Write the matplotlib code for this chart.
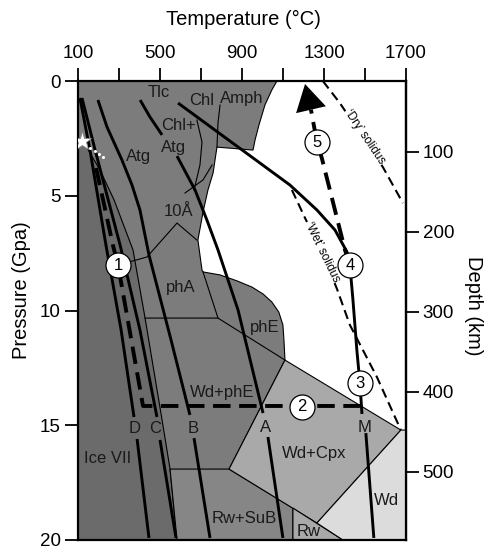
import matplotlib
matplotlib.use('Agg')
import matplotlib.pyplot as plt
from matplotlib.patches import Polygon

plt.rcParams['font.family'] = ['Liberation Sans', 'DejaVu Sans']

# ---------------- axes ----------------
temp_ticks = [100, 300, 500, 700, 900, 1100, 1300, 1500, 1700]
temp_labels = ['100', '', '500', '', '900', '', '1300', '', '1700']
pressure_ticks = [0, 5, 10, 15, 20]
depth_ticks = [100, 200, 300, 400, 500]

# ---------------- phase fields (T in degC, P in GPa) ----------------
hydrous_T = [100, 1070, 1045, 1011, 982, 963, 953, 777, 758, 733, 709, 684, 704, 709,
             792, 875, 948, 1002, 1045, 1079, 1099, 1104, 1109, 836, 1148, 1148, 100]
hydrous_P = [0, 0, 0.39, 1.05, 1.92, 2.57, 3.01, 2.88, 4.01, 4.75, 5.71, 6.93, 8.24, 8.32,
             8.45, 8.71, 8.98, 9.28, 9.63, 10.07, 10.63, 11.28, 12.16, 16.91, 18.61, 20, 20]
ice_T = [100, 123, 206, 275, 367, 426, 509, 548, 582, 100]
ice_P = [2.75, 2.61, 3.88, 5.19, 7.36, 10.33, 14.77, 16.91, 20, 20]
rwsub_T = [548, 836, 1148, 1148, 582]
rwsub_P = [16.91, 16.91, 18.61, 20, 20]
wdcpx_T = [1109, 1675, 1265, 836]
wdcpx_P = [12.16, 15.21, 19.26, 16.91]
rw_T = [1148, 1392, 1148]
rw_P = [18.61, 20, 20]
wd_T = [1265, 1675, 1700, 1700, 1392]
wd_P = [19.26, 15.21, 15.21, 20, 20]

# ---------------- thin phase boundaries ----------------
amph_T = [792, 782, 777]
amph_P = [1.05, 1.83, 2.88]
chlatg_T = [679, 704, 694, 665]
chlatg_P = [1.70, 2.66, 3.66, 4.75]
tenA_top_T = [753, 709, 621]
tenA_top_P = [3.66, 4.31, 4.88]
tenA_bot_T = [294, 435, 582, 679]
tenA_bot_P = [8.02, 7.67, 6.19, 6.93]
phA_bot_T = [426, 782, 1109]
phA_bot_P = [10.33, 10.33, 12.16]
phA_right_T = [709, 782]
phA_right_P = [8.32, 10.33]

# ---------------- thick curves ----------------
tlc_T = [402, 450, 509]
tlc_P = [0.83, 1.57, 2.35]
D_up_T = [108, 157, 235, 309, 372]
D_up_P = [0.74, 3.01, 7.15, 10.85, 14.64]
D_lo_T = [387, 445]
D_lo_P = [15.60, 19.91]
C_up_T = [118, 182, 304, 401, 484]
C_up_P = [0.74, 3.01, 7.15, 10.85, 14.64]
C_lo_T = [499, 577]
C_lo_P = [15.64, 19.91]
B_up_T = [196, 240, 313, 362, 401, 445, 553, 645]
B_up_P = [0.83, 2.00, 3.44, 4.53, 5.62, 7.58, 11.29, 14.55]
B_lo_T = [665, 743]
B_lo_P = [15.56, 19.91]
A_up_T = [582, 670, 728, 782, 880, 1002]
A_up_P = [3.27, 4.75, 6.06, 7.36, 9.98, 14.47]
A_lo_T = [1026, 1099]
A_lo_P = [15.51, 19.91]
M_up_T = [587, 1133, 1265, 1353, 1412, 1426, 1441, 1460, 1475, 1485]
M_up_P = [0.96, 4.53, 5.62, 6.49, 7.45, 8.02, 9.54, 11.72, 13.16, 14.51]
M_lo_T = [1504, 1543]
M_lo_P = [15.34, 19.91]

# ---------------- solidi ----------------
dry_T = [1294, 1377, 1587, 1685]
dry_P = [0.0, 0.96, 3.75, 5.32]
wet_T = [1143, 1207, 1289, 1363, 1426, 1558, 1675]
wet_P = [4.75, 5.97, 7.45, 9.06, 10.63, 12.90, 15.21]

# ---------------- water path ----------------
path_T = [187, 269, 294, 416, 1475]
path_P = [3.79, 7.15, 8.02, 14.16, 14.16]
rise_T = [1426, 1402, 1353, 1289, 1265, 1236]
rise_P = [8.02, 7.36, 5.62, 3.36, 2.66, 1.25]
arrow_tip = (1207, 0.13)
star_T, star_P = 118, 2.61
dots_T = [118, 157, 182, 201, 221]
dots_P = [2.61, 2.92, 3.05, 3.18, 3.31]
circ_T = [294, 1192, 1475, 1426, 1265]
circ_P = [8.02, 14.20, 13.16, 8.02, 2.66]
circ_lab = ['1', '2', '3', '4', '5']

field_labels = [('Tlc', 493, 0.48), ('Chl', 704, 0.83), ('Amph', 899, 0.78),
                ('Chl+', 587, 1.92), ('Atg', 567, 2.88), ('Atg', 392, 3.27),
                ('10Å', 587, 5.7), ('phA', 602, 8.98), ('phE', 1011, 10.76),
                ('Wd+phE', 802, 13.59), ('Ice VII', 241, 16.43), ('Wd+Cpx', 1250, 16.21),
                ('Rw+SuB', 909, 19.08), ('Rw', 1226, 19.61), ('Wd', 1607, 18.30)]
curve_labels = [('D', 377, 15.12), ('C', 474, 15.16), ('B', 660, 15.16),
                ('A', 1016, 15.08), ('M', 1499, 15.08)]

W, H = 488, 551
fig = plt.figure(figsize=(W / 100, H / 100), dpi=100)
ax = fig.add_axes([78.3 / W, 11 / H, 327.7 / W, 459 / H])
ax.set_xlim(100, 1700)
ax.set_ylim(20, 0)

def poly(T, P, fc, z):
    ax.add_patch(Polygon(list(zip(T, P)), closed=True, fc=fc, ec='black', lw=0.8, zorder=z))

poly(hydrous_T, hydrous_P, '#7c7c7c', 1)
poly(ice_T, ice_P, '#6b6b6b', 1.1)
poly(rwsub_T, rwsub_P, '#868686', 1.1)
poly(wdcpx_T, wdcpx_P, '#a9a9a9', 1.2)
poly(rw_T, rw_P, '#a9a9a9', 1.2)
poly(wd_T, wd_P, '#dcdcdc', 1.2)

for T, P in [(amph_T, amph_P), (chlatg_T, chlatg_P), (tenA_top_T, tenA_top_P),
             (tenA_bot_T, tenA_bot_P), (phA_bot_T, phA_bot_P), (phA_right_T, phA_right_P)]:
    ax.plot(T, P, color='black', lw=0.8, zorder=2)

for T, P in [(tlc_T, tlc_P), (D_up_T, D_up_P), (D_lo_T, D_lo_P), (C_up_T, C_up_P),
             (C_lo_T, C_lo_P), (B_up_T, B_up_P), (B_lo_T, B_lo_P), (A_up_T, A_up_P),
             (A_lo_T, A_lo_P), (M_up_T, M_up_P), (M_lo_T, M_lo_P)]:
    ax.plot(T, P, color='black', lw=2.1, zorder=3, solid_capstyle='butt')

ax.plot(dry_T, dry_P, color='black', lw=1.5, ls=(0, (4.5, 2.5)), zorder=3)
ax.plot(wet_T, wet_P, color='black', lw=1.5, ls=(0, (4.5, 2.5)), zorder=3)
ax.text(1499, 2.44, '‘Dry’ solidus', rotation=-56, ha='center', va='center', fontsize=8.5,
        rotation_mode='anchor', zorder=5,
        bbox=dict(fc='white', ec='none', pad=0.5))
ax.text(1289, 7.45, '‘Wet’ solidus', rotation=-64, ha='center', va='center', fontsize=8.5,
        rotation_mode='anchor', zorder=5,
        bbox=dict(fc='white', ec='none', pad=0.5))

ax.plot(path_T, path_P, color='black', lw=2.8, ls=(0, (4.5, 2.2)), zorder=4)
ax.plot(rise_T, rise_P, color='black', lw=2.8, ls=(0, (4.5, 2.2)), zorder=4)
ax.annotate('', xy=arrow_tip, xytext=(rise_T[-1], rise_P[-1]),
            arrowprops=dict(arrowstyle='-|>,head_length=0.95,head_width=0.55',
                            mutation_scale=20, color='black', lw=0,
                            shrinkA=0, shrinkB=0), zorder=5)

ax.plot(dots_T, dots_P, ls='none', marker='o', ms=2.2, mfc='white', mec='none', zorder=5)
ax.plot([star_T], [star_P], marker='*', ms=14, mfc='white', mec='#888888', mew=0.6, zorder=6)

for T, P, s in zip(circ_T, circ_P, circ_lab):
    ax.plot([T], [P], marker='o', ms=18, mfc='white', mec='black', mew=0.9, zorder=6)
    ax.text(T, P, s, ha='center', va='center', fontsize=12, zorder=7)

for s, T, P in field_labels:
    ax.text(T, P, s, ha='center', va='center', fontsize=12, color='#1a1a1a', zorder=5)
for s, T, P in curve_labels:
    ax.text(T, P, s, ha='center', va='center', fontsize=12, color='#1a1a1a', zorder=5)

# axes styling
ax.xaxis.tick_top()
ax.set_xticks(temp_ticks)
ax.set_xticklabels(temp_labels)
ax.set_yticks(pressure_ticks)
ax.tick_params(axis='x', direction='out', length=9.5, width=1.3, pad=4, labelsize=13.5)
ax.tick_params(axis='y', direction='out', length=9.5, width=1.3, pad=3, labelsize=13.5)
for sp in ax.spines.values():
    sp.set_linewidth(1.6)

def p2d(p):
    return (p + 0.4096) / 0.03489

def d2p(d):
    return d * 0.03489 - 0.4096

sec = ax.secondary_yaxis('right', functions=(p2d, d2p))
sec.set_yticks(depth_ticks)
sec.tick_params(direction='out', length=9, width=1.3, pad=3, labelsize=13.5)
sec.spines['right'].set_linewidth(1.6)

fig.text(243 / W, 1 - 19 / H, 'Temperature (°C)', ha='center', va='center', fontsize=14.5)
fig.text(22 / W, 1 - 290 / H, 'Pressure (Gpa)', ha='center', va='center', fontsize=14.5,
         rotation=90)
fig.text(473 / W, 1 - 306 / H, 'Depth (km)', ha='center', va='center', fontsize=14.5,
         rotation=-90)

fig.savefig('out.png', dpi=100)
